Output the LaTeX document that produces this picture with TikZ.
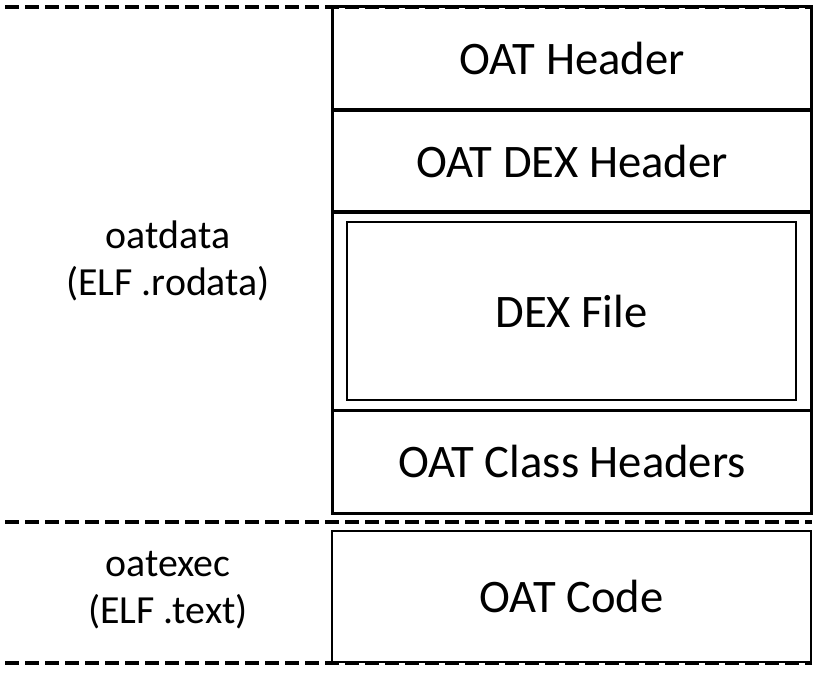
\documentclass[tikz,border=0pt]{standalone}
\usepackage{fontspec}
\setmainfont{Carlito}
\usepackage{tikz}

\begin{document}
\begin{tikzpicture}[x=0.5bp,y=-0.5bp,
  part/.style={draw,line width=1.5bp,minimum width=239bp,inner sep=0pt,font=\fontsize{23.4}{28}\selectfont},
  thinpart/.style={draw,line width=1bp,inner sep=0pt,font=\fontsize{23.4}{28}\selectfont},
  region/.style={align=center,font=\fontsize{20}{23.5}\selectfont},
  border/.style={line width=2bp,dash pattern=on 7bp off 3bp}]
\useasboundingbox (0,0) rectangle (819,674);

\node[part,minimum height=51.5bp](hdr) at (572,58.5) {OAT Header};
\node[part,minimum height=51bp](dexhdr) at (572,161) {OAT DEX Header};
\node[part,minimum height=99bp](dexsec) at (572,311) {};
\node[thinpart,minimum width=224.5bp,minimum height=89bp](dex) at (571.5,311) {DEX File};
\node[part,minimum height=51.5bp](cls) at (572,461.5) {OAT Class Headers};
\node[thinpart,minimum width=239.5bp,minimum height=65.5bp](code) at (571.5,596.5) {OAT Code};

\node[region](rodata) at (168,261) {oatdata\\(ELF .rodata)};
\node[region](text) at (168,590) {oatexec\\(ELF .text)};

\coordinate (topl) at (5,7);
\coordinate (topr) at (812,7);
\coordinate (midl) at (5,522);
\coordinate (midr) at (812,522);
\coordinate (botl) at (5,663);
\coordinate (botr) at (812,663);

\path (topl) edge [border] (topr);
\path (midl) edge [border] (midr);
\path (botl) edge [border] (botr);
\end{tikzpicture}
\end{document}
